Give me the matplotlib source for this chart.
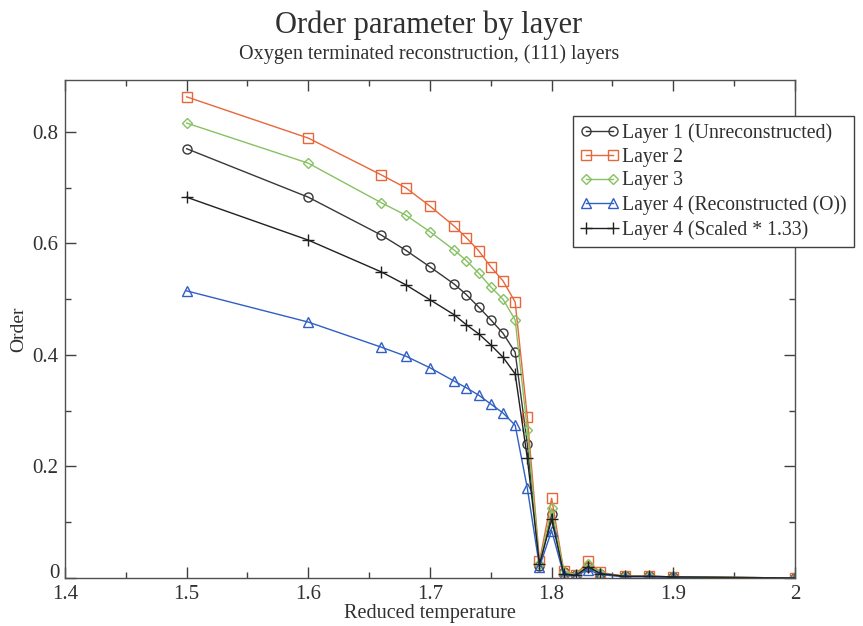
import matplotlib
matplotlib.use("Agg")
import matplotlib.pyplot as plt
from matplotlib.ticker import MultipleLocator

plt.rcParams['font.family'] = ['Liberation Serif', 'DejaVu Serif']

# reduced temperature sample points
temp = [1.50, 1.60, 1.66, 1.68, 1.70, 1.72, 1.73, 1.74, 1.75, 1.76, 1.77,
        1.78, 1.79, 1.80, 1.81, 1.82, 1.83, 1.84, 1.86, 1.88, 1.90, 2.00]

layer1 = [0.770, 0.683, 0.615, 0.588, 0.558, 0.527, 0.508, 0.486, 0.463, 0.439, 0.405,
          0.240, 0.022, 0.115, 0.010, 0.005, 0.020, 0.008, 0.003, 0.003, 0.002, 0.0]
layer2 = [0.863, 0.789, 0.723, 0.700, 0.667, 0.631, 0.610, 0.587, 0.558, 0.533, 0.495,
          0.289, 0.030, 0.143, 0.012, 0.006, 0.030, 0.010, 0.003, 0.003, 0.002, 0.0]
layer3 = [0.816, 0.744, 0.673, 0.651, 0.621, 0.588, 0.569, 0.547, 0.522, 0.500, 0.463,
          0.265, 0.025, 0.125, 0.011, 0.005, 0.025, 0.009, 0.003, 0.003, 0.002, 0.0]
layer4 = [0.515, 0.459, 0.414, 0.398, 0.377, 0.353, 0.341, 0.328, 0.312, 0.296, 0.274,
          0.161, 0.020, 0.085, 0.005, 0.004, 0.015, 0.006, 0.002, 0.002, 0.001, 0.0]
layer4_scaled = [0.683, 0.606, 0.549, 0.526, 0.499, 0.472, 0.454, 0.438, 0.418, 0.396, 0.366,
                 0.215, 0.025, 0.105, 0.007, 0.005, 0.020, 0.008, 0.003, 0.003, 0.002, 0.0]

series = [
    (layer1, "Layer 1 (Unreconstructed)", "#383838", "o"),
    (layer2, "Layer 2", "#e8673a", "s"),
    (layer3, "Layer 3", "#86c262", "D"),
    (layer4, "Layer 4 (Reconstructed (O))", "#2f5fc4", "^"),
    (layer4_scaled, "Layer 4 (Scaled * 1.33)", "#202020", "+"),
]

fig = plt.figure(figsize=(8.63, 6.26), dpi=100)
ax = fig.add_axes([0.0753, 0.0767, 0.8459, 0.7953])

for vals, name, col, mk in series:
    ms = 5 if mk == "D" else 6.5
    if mk == "+":
        ms = 8
    ax.plot(temp, vals, color=col, lw=1.0, marker=mk, ms=ms,
            mfc="none", mec=col, mew=1.0, label=name)

ax.set_xlim(1.4, 2.0)
ax.set_ylim(0, 0.893)
ax.xaxis.set_major_locator(MultipleLocator(0.1))
ax.xaxis.set_minor_locator(MultipleLocator(0.05))
ax.yaxis.set_major_locator(MultipleLocator(0.2))
ax.yaxis.set_minor_locator(MultipleLocator(0.1))
ax.xaxis.set_major_formatter(lambda v, p: f"{v:g}")
# the zero label is placed by hand below so it clears the 1.4 label
ax.yaxis.set_major_formatter(lambda v, p: "" if abs(v) < 1e-9 else f"{v:g}")
ax.tick_params(which="both", direction="in", top=True, right=True,
               colors="#404040", labelcolor="#303030", labelsize=15)
ax.tick_params(axis="y", pad=5)
ax.tick_params(axis="x", pad=5)
ax.tick_params(which="major", length=8, width=1)
ax.tick_params(which="minor", length=4, width=1)
for sp in ax.spines.values():
    sp.set_color("#505050")
    sp.set_linewidth(1.0)

ax.annotate("0", xy=(0, 0), xycoords="axes fraction", xytext=(-4, 3),
            textcoords="offset points", ha="right", va="center",
            fontsize=15, color="#303030")

ax.set_xlabel("Reduced temperature", fontsize=14.5, color="#303030", labelpad=0)
ax.set_ylabel("Order", fontsize=14, color="#303030", labelpad=3)

fig.text(0.497, 0.959, "Order parameter by layer", ha="center", va="center",
         fontsize=22, color="#303030")
fig.text(0.497, 0.913, "Oxygen terminated reconstruction, (111) layers",
         ha="center", va="center", fontsize=14.5, color="#303030")

leg = fig.legend(loc="upper left", bbox_to_anchor=(0.664, 0.8147), numpoints=2,
                 fontsize=14.2, frameon=True, fancybox=False, framealpha=1,
                 edgecolor="#404040", handlelength=2.0, handletextpad=0.15,
                 borderpad=0.35, labelspacing=0.25, borderaxespad=0)
leg.get_frame().set_linewidth(1.0)
for t in leg.get_texts():
    t.set_color("#303030")

fig.savefig("out.png", dpi=100)
